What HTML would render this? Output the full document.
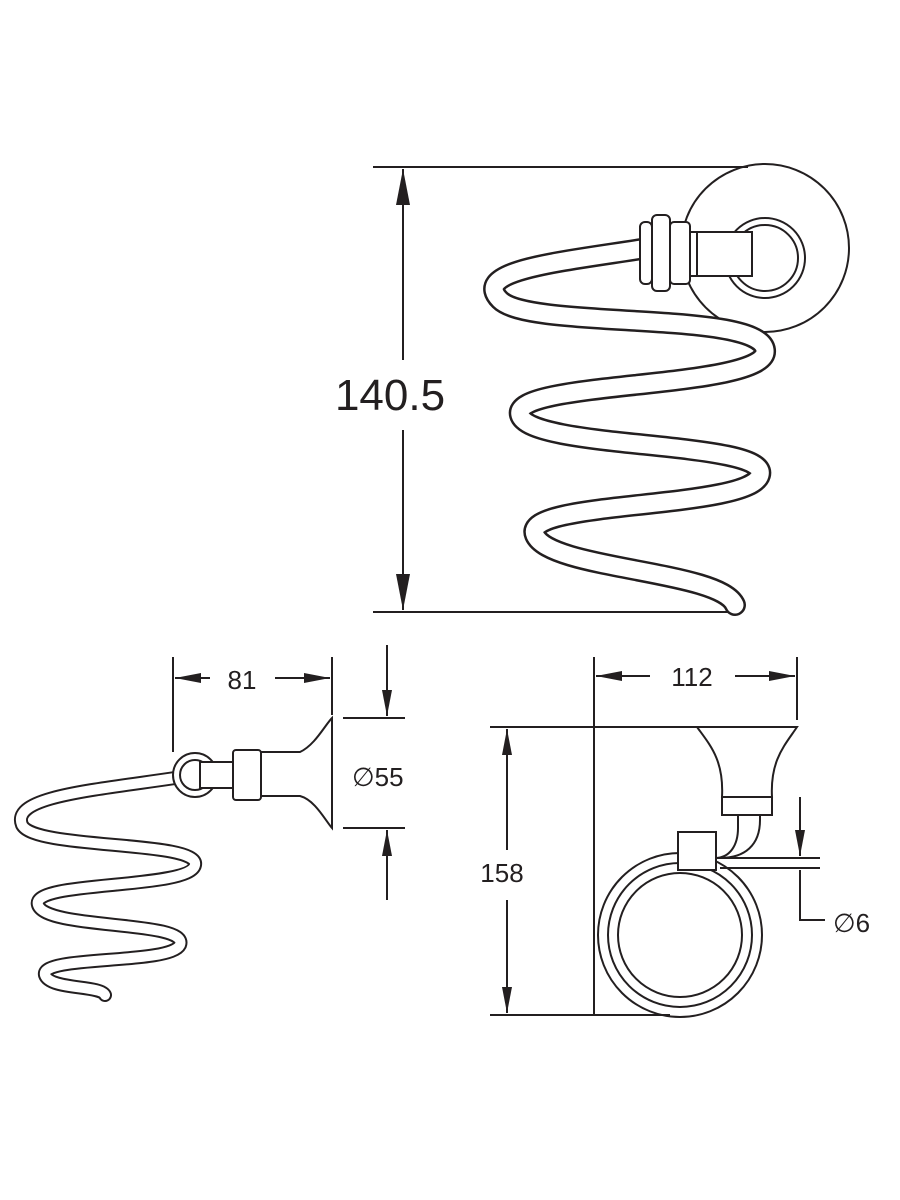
<!DOCTYPE html>
<html><head><meta charset="utf-8"><style>
html,body{margin:0;padding:0;background:#fff;width:900px;height:1200px;overflow:hidden}
svg{display:block}
text{font-family:"Liberation Sans",Arial,sans-serif;fill:#231f20}
</style></head><body>
<svg width="900" height="1200" viewBox="0 0 900 1200" xmlns="http://www.w3.org/2000/svg">
<defs>
<marker id="a" viewBox="0 0 36 14" refX="36" refY="7" markerWidth="36" markerHeight="14" orient="auto-start-reverse" markerUnits="userSpaceOnUse"><path d="M0,0 L36,7 L0,14 z" fill="#231f20"/></marker>
<marker id="b" viewBox="0 0 26 10" refX="26" refY="5" markerWidth="26" markerHeight="10" orient="auto-start-reverse" markerUnits="userSpaceOnUse"><path d="M0,0 L26,5 L0,10 z" fill="#231f20"/></marker>
</defs>
<g stroke="#231f20" fill="none" stroke-width="2">
<line x1="373" y1="167" x2="748" y2="167"/>
<line x1="373" y1="612" x2="730" y2="612"/>
<line x1="403" y1="169" x2="403" y2="360" marker-start="url(#a)"/>
<line x1="403" y1="430" x2="403" y2="610" marker-end="url(#a)"/>
<circle cx="765" cy="248" r="84"/>
<circle cx="765" cy="258" r="40"/>
<circle cx="765" cy="258" r="33"/>
<path d="M648,248 C560,262 470,270 500,300 C530,330 760,310 765,350 C770,390 510,380 520,415 C530,450 770,440 760,475 C750,510 520,500 535,535 C550,570 720,570 735,605" stroke-width="22" stroke-linecap="round"/>
<path d="M648,248 C560,262 470,270 500,300 C530,330 760,310 765,350 C770,390 510,380 520,415 C530,450 770,440 760,475 C750,510 520,500 535,535 C550,570 720,570 735,605" stroke="#fff" stroke-width="17" stroke-linecap="round"/>
<rect x="690" y="232" width="62" height="44" fill="#fff"/>
<rect x="640" y="222" width="12" height="62" rx="5" fill="#fff"/>
<rect x="652" y="215" width="18" height="76" rx="5" fill="#fff"/>
<rect x="670" y="222" width="20" height="62" rx="4" fill="#fff"/>
<line x1="697" y1="232" x2="697" y2="276"/>
<line x1="173" y1="657" x2="173" y2="752"/>
<line x1="332" y1="657" x2="332" y2="715"/>
<line x1="175" y1="678" x2="210" y2="678" marker-start="url(#b)"/>
<line x1="275" y1="678" x2="330" y2="678" marker-end="url(#b)"/>
<line x1="343" y1="718" x2="405" y2="718"/>
<line x1="343" y1="828" x2="405" y2="828"/>
<line x1="387" y1="645" x2="387" y2="716" marker-end="url(#b)"/>
<line x1="387" y1="900" x2="387" y2="830" marker-end="url(#b)"/>
<path d="M195,775 C100,790 10,795 22,825 C35,850 200,840 195,865 C190,890 30,880 38,905 C46,930 190,920 180,945 C170,965 40,955 45,975 C50,990 100,985 105,995" stroke-width="14" stroke-linecap="round"/>
<path d="M195,775 C100,790 10,795 22,825 C35,850 200,840 195,865 C190,890 30,880 38,905 C46,930 190,920 180,945 C170,965 40,955 45,975 C50,990 100,985 105,995" stroke="#fff" stroke-width="10" stroke-linecap="round"/>
<circle cx="195" cy="775" r="22" fill="#fff"/>
<circle cx="195" cy="775" r="15"/>
<rect x="200" y="762" width="35" height="26" fill="#fff"/>
<rect x="233" y="750" width="28" height="50" rx="3" fill="#fff"/>
<path d="M261,752 L300,752 C315,745 325,725 332,718 L332,828 C325,820 315,800 300,796 L261,796 z" fill="#fff"/>
<line x1="594" y1="657" x2="594" y2="1015"/>
<line x1="797" y1="657" x2="797" y2="720"/>
<line x1="596" y1="676" x2="650" y2="676" marker-start="url(#b)"/>
<line x1="735" y1="676" x2="795" y2="676" marker-end="url(#b)"/>
<line x1="490" y1="727" x2="700" y2="727"/>
<line x1="490" y1="1015" x2="670" y2="1015"/>
<line x1="507" y1="729" x2="507" y2="850" marker-start="url(#b)"/>
<line x1="507" y1="900" x2="507" y2="1013" marker-end="url(#b)"/>
<circle cx="680" cy="935" r="82"/>
<circle cx="680" cy="935" r="72"/>
<circle cx="680" cy="935" r="62"/>
<path d="M685,858 L720,858 C745,858 760,845 760,820 L760,810 M720,868 L820,868 M720,858 L820,858" />
<path d="M738,815 L738,828 C738,845 730,858 715,858" />
<rect x="678" y="832" width="38" height="38" fill="#fff"/>
<rect x="722" y="797" width="50" height="18" fill="#fff"/>
<path d="M697,727 L797,727 C785,745 770,760 772,797 L722,797 C724,760 710,745 697,727 z" fill="#fff"/>
<line x1="800" y1="797" x2="800" y2="856" marker-end="url(#b)"/>
<path d="M800,870 L800,920 L825,920" />
</g>
<text x="390" y="410" font-size="44" text-anchor="middle">140.5</text>
<text x="242" y="689" font-size="26" text-anchor="middle">81</text>
<text x="352" y="786" font-size="26">∅55</text>
<text x="692" y="686" font-size="26" text-anchor="middle">112</text>
<text x="502" y="882" font-size="26" text-anchor="middle">158</text>
<text x="833" y="932" font-size="26">∅6</text>
</svg>
</body></html>
